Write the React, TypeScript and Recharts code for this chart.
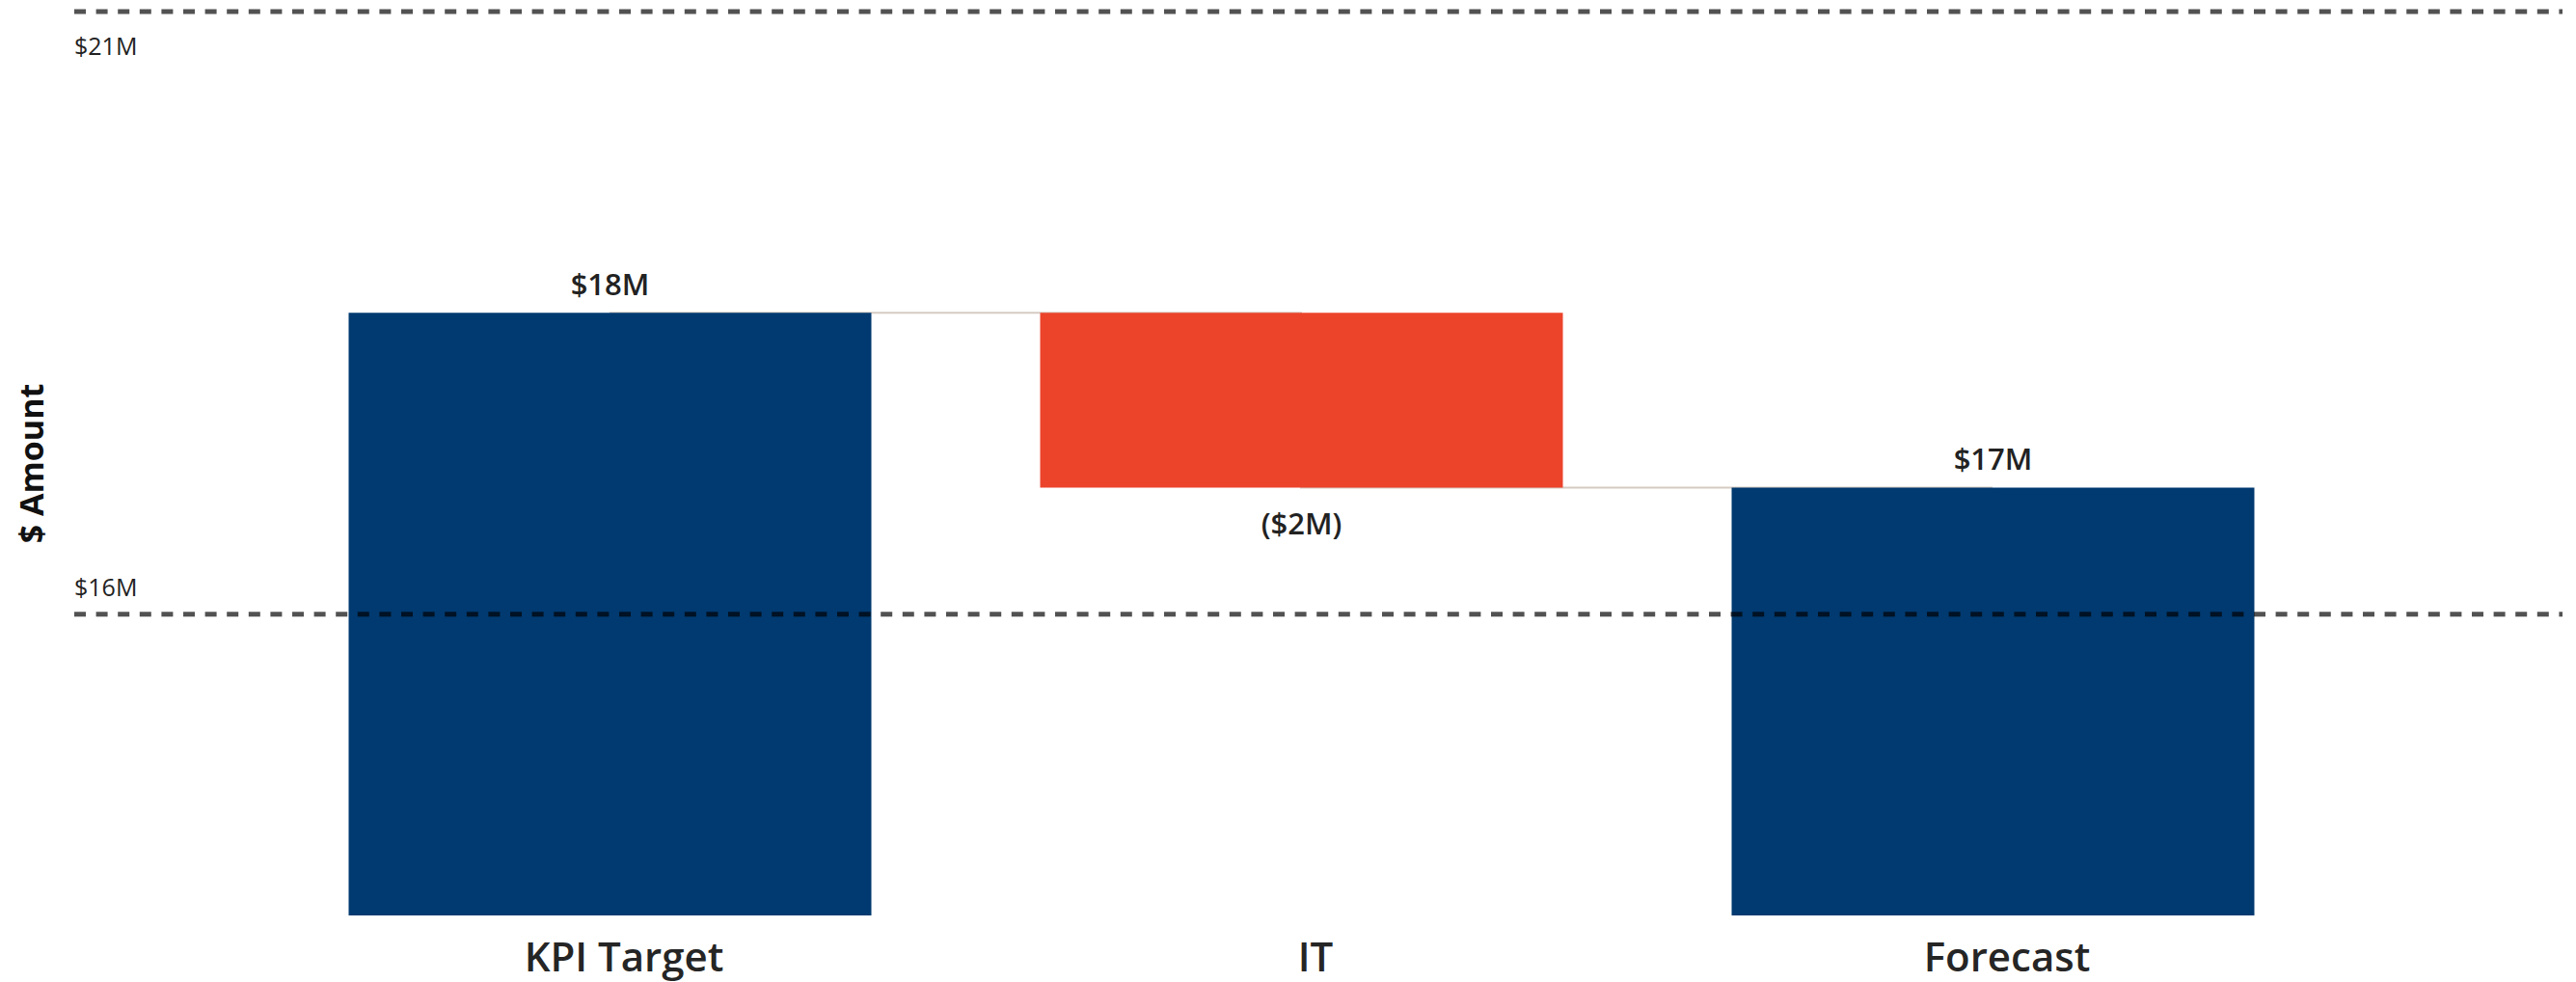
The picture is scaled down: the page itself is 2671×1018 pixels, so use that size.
import { BarChart, Bar, Line, XAxis, YAxis, ReferenceLine, LabelList, Cell } from 'recharts';

// $M values
const categories = ['KPI Target', 'IT', 'Forecast'];
const amounts = [18.5, -1.45, 17.05];
const kinds = ['total', 'delta', 'total'];
const valueLabels = ['$18M', '($2M)', '$17M'];
const gridValues = [16, 21];
const gridLabels = ['$16M', '$21M'];
const yDomain = [13.5, 21];

const NAVY = '#003A70';
const RED = '#EC432B';
const FONT = '"Open Sans", "Segoe UI", sans-serif';

// Build waterfall rows: floating range + running level for the connectors
let running = yDomain[0];
const data = categories.map((name, i) => {
  let range: number[];
  if (kinds[i] === 'total') {
    running = amounts[i];
    range = [yDomain[0], amounts[i]];
  } else {
    const next = running + amounts[i];
    range = [Math.min(running, next), Math.max(running, next)];
    running = next;
  }
  return { name, range, level: running, kind: kinds[i], label: valueLabels[i] };
});

const CategoryTick = ({ x, y, payload }: any) => (
  <text x={x + 15} y={y + 58} textAnchor="middle" fontFamily={FONT} fontWeight={600} fontSize={42} fill="#252525">
    {payload.value}
  </text>
);

const ValueLabel = (props: any) => {
  const { x, y, width, height, value } = props;
  const row = data.find((d) => d.label === value);
  const below = row && row.kind === 'delta';
  return (
    <text
      x={x + width / 2}
      y={below ? y + height + 49 : y - 18}
      textAnchor="middle"
      fontFamily={FONT}
      fontWeight={600}
      fontSize={31}
      fill="#222"
    >
      {value}
    </text>
  );
};

const AxisTitle = ({ viewBox }: any) => {
  const cy = viewBox.y + viewBox.height / 2;
  return (
    <text x={32} y={cy} transform={`rotate(-90, 32, ${cy})`} textAnchor="middle" dominantBaseline="central"
      fontFamily={FONT} fontWeight={700} fontSize={34} fill="#111">
      $ Amount
    </text>
  );
};

export default function App() {
  return (
    <div style={{ position: 'absolute', left: 0, top: 0, width: 2671, height: 1018, background: '#fff' }}>
      <BarChart width={2671} height={1018} data={data} margin={{ top: 12, right: 14, bottom: 0, left: 0 }}>
        <XAxis
          dataKey="name"
          height={69}
          axisLine={false}
          tickLine={false}
          tickSize={0}
          tickMargin={0}
          padding={{ left: 196.5, right: 232.5 }}
          tick={<CategoryTick />}
        />
        <YAxis
          width={77}
          domain={yDomain}
          ticks={gridValues}
          allowDataOverflow
          tick={false}
          axisLine={false}
          tickLine={false}
          label={<AxisTitle />}
        />
        <Line
          dataKey="level"
          type="stepAfter"
          stroke="#d6cbc2"
          strokeWidth={2}
          dot={false}
          activeDot={false}
          isAnimationActive={false}
          zIndex={250}
        />
        <Bar dataKey="range" barSize={542} isAnimationActive={false}>
          {data.map((d) => (
            <Cell key={d.name} fill={d.kind === 'total' ? NAVY : RED} />
          ))}
          <LabelList dataKey="label" content={<ValueLabel />} />
        </Bar>
        {gridValues.map((v, i) => (
          <ReferenceLine
            key={v}
            y={v}
            stroke="#000"
            strokeOpacity={0.68}
            strokeWidth={5}
            strokeDasharray="12 10.6"
            label={(p: any) => {
              const vb = p.viewBox;
              const atTop = v === yDomain[1];
              return (
                <text x={vb.x} y={vb.y + (atTop ? 45 : -19)} fontFamily={FONT} fontSize={25} fill="#222">
                  {gridLabels[i]}
                </text>
              );
            }}
          />
        ))}
      </BarChart>
    </div>
  );
}
